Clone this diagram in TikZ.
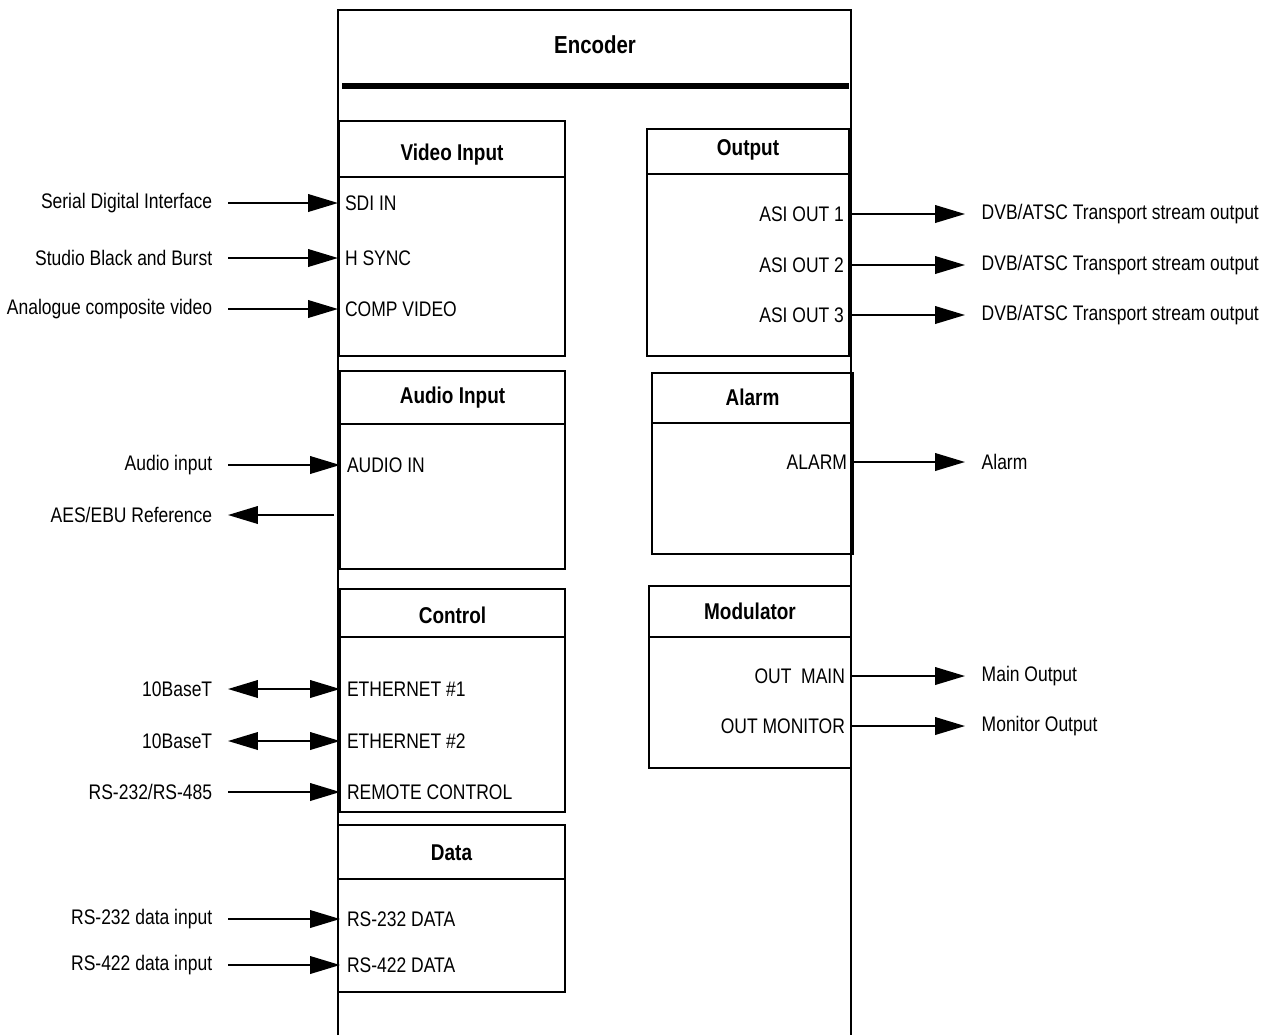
\documentclass[tikz,border=0pt]{standalone}
\usepackage{fontspec}
\setmainfont{Liberation Sans}[FakeStretch=0.83]
\usepackage{tikz}
\usetikzlibrary{arrows.meta}
\usetikzlibrary{positioning,calc}

\begin{document}
\begin{tikzpicture}[>={Triangle[length=17pt,width=10pt]}, x=0.02cm, y=-0.02cm]
\tikzstyle{every node}=[font=\fontsize{12}{14}\selectfont, inner sep=4pt]
\tikzstyle{frame}=[line width=1.6pt]
\tikzstyle{blk}=[line width=1.5pt]
\tikzstyle{hdr}=[line width=1pt]
\tikzstyle{sig}=[line width=1pt]
\tikzstyle{ttl}=[font=\bfseries\fontsize{13}{15}\selectfont]
\tikzstyle{extL}=[anchor=east, outer xsep=5pt]
\tikzstyle{extR}=[anchor=west, outer xsep=5.5pt]
\tikzstyle{portL}=[anchor=west, outer sep=0pt]
\tikzstyle{portR}=[anchor=east, outer sep=0pt]
\useasboundingbox (0,0) rectangle (1277,1035);

% encoder frame
\draw[frame] (338,1035) -- (338,10) -- (851,10) -- (851,1035);
\node[ttl, font=\bfseries\fontsize{14}{16}\selectfont] (enc) at (595,45) {Encoder};
\draw[line width=3.4pt] (342,86) -- (849,86);

% sub blocks: name/left/top/right/bottom/header/title y/title
\foreach \nm/\l/\t/\r/\b/\h/\ty/\tx in {
  vin/339/121/565/356/177/155/Video Input,
  out/647/129/849/356/174/150/Output,
  ain/340/371/565/569/424/398/Audio Input,
  alm/652/373/853/554/423/397/Alarm,
  ctl/340/589/565/812/637/615/Control,
  mod/649/586/851/768/637/611/Modulator,
  dat/338/825/565/992/879/853/Data}
{
  \draw[blk] (\l,\t) rectangle (\r,\b);
  \draw[hdr] (\l,\h) -- (\r,\h);
  \node[ttl] (\nm) at ({(\l+\r)/2},\ty) {\tx};
}

% video input
\node[portL] (sdiIn)  at (338,203) {SDI IN};
\node[portL] (hsIn)   at (338,258) {H SYNC};
\node[portL] (compIn) at (338,309) {COMP VIDEO};
\node[extL]  (sdiL)   at (228,203) {Serial Digital Interface};
\node[extL]  (hsL)    at (228,258) {Studio Black and Burst};
\node[extL]  (compL)  at (228,309) {Analogue composite video};

% audio input
\node[portL] (audIn) at (340,465) {AUDIO IN};
\coordinate (aesP) at (334,515);
\node[extL]  (audL)  at (228,465) {Audio input};
\node[extL]  (aesL)  at (228,515) {AES/EBU Reference};

% control
\node[portL] (eth1)  at (340,689) {ETHERNET \#1};
\node[portL] (eth2)  at (340,741) {ETHERNET \#2};
\node[portL] (remIn) at (340,792) {REMOTE CONTROL};
\node[extL]  (eth1L) at (228,689) {10BaseT};
\node[extL]  (eth2L) at (228,741) {10BaseT};
\node[extL]  (remL)  at (228,792) {RS-232/RS-485};

% data
\node[portL] (rs2In) at (340,919) {RS-232 DATA};
\node[portL] (rs4In) at (340,965) {RS-422 DATA};
\node[extL]  (rs2L)  at (228,919) {RS-232 data input};
\node[extL]  (rs4L)  at (228,965) {RS-422 data input};

% output
\node[portR] (asi1) at (851,214) {ASI OUT 1};
\node[portR] (asi2) at (851,265) {ASI OUT 2};
\node[portR] (asi3) at (851,315) {ASI OUT 3};
\node[extR]  (ts1)  at (965,214) {DVB/ATSC Transport stream output};
\node[extR]  (ts2)  at (965,265) {DVB/ATSC Transport stream output};
\node[extR]  (ts3)  at (965,315) {DVB/ATSC Transport stream output};

% alarm
\node[portR] (almOut) at (854,462) {ALARM};
\node[extR]  (almR)   at (965,462) {Alarm};

% modulator
\node[portR] (mainOut) at (852,676) {OUT\ \ MAIN};
\node[portR] (monOut)  at (852,726) {OUT MONITOR};
\node[extR]  (mainR)   at (965,676) {Main Output};
\node[extR]  (monR)    at (965,726) {Monitor Output};

\draw[sig,->] (sdiL.east)  -- (sdiIn.west);
\draw[sig,->] (hsL.east)   -- (hsIn.west);
\draw[sig,->] (compL.east) -- (compIn.west);
\draw[sig,->] (audL.east)  -- (audIn.west);
\draw[sig,->] (aesP)       -- (aesL.east);
\draw[sig,<->] (eth1L.east) -- (eth1.west);
\draw[sig,<->] (eth2L.east) -- (eth2.west);
\draw[sig,->] (remL.east)  -- (remIn.west);
\draw[sig,->] (rs2L.east)  -- (rs2In.west);
\draw[sig,->] (rs4L.east)  -- (rs4In.west);
\draw[sig,->] (asi1.east)  -- (ts1.west);
\draw[sig,->] (asi2.east)  -- (ts2.west);
\draw[sig,->] (asi3.east)  -- (ts3.west);
\draw[sig,->] (almOut.east) -- (almR.west);
\draw[sig,->] (mainOut.east) -- (mainR.west);
\draw[sig,->] (monOut.east)  -- (monR.west);
\end{tikzpicture}
\end{document}
